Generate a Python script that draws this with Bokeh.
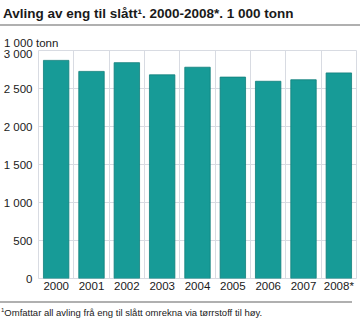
from bokeh.plotting import figure
from bokeh.models import Div, FixedTicker, Range1d
from bokeh.layouts import column
from bokeh.embed import file_html
from bokeh.resources import INLINE

years = ["2000", "2001", "2002", "2003", "2004", "2005", "2006", "2007", "2008*"]
values = [2870, 2725, 2840, 2680, 2780, 2650, 2595, 2615, 2705]
y_ticks = [0, 500, 1000, 1500, 2000, 2500, 3000]
y_tick_labels = ["0", "500", "1 000", "1 500", "2 000", "2 500", "3 000"]

title_text = "Avling av eng til slått¹. 2000-2008*. 1 000 tonn"
unit_text = "1 000 tonn"
footnote_text = "Omfattar all avling frå eng til slått omrekna via tørrstoff til høy."

FONT = "'Liberation Sans', Arial, sans-serif"
BAR = "#179b97"
GRID = "#d8dbe2"
RULE = "#b0b0b0"

title = Div(text=(f"<div style=\"font-family:{FONT};font-size:13.5px;font-weight:bold;"
                  f"color:#1a1a1a;padding-top:4px;padding-left:3px;padding-right:66px;height:26px;"
                  f"border-bottom:2px solid {RULE};\">{title_text}</div>"),
            width=363, height=34, margin=(0, 0, 0, 0))
unit = Div(text=(f"<div style=\"font-family:{FONT};font-size:11.5px;color:#1a1a1a;"
                 f"padding-top:1px;padding-left:4px;\">{unit_text}</div>"),
           width=363, height=13, margin=(0, 0, 0, 0))

p = figure(width=363, height=254, output_backend="svg", toolbar_location=None,
           x_range=Range1d(0, len(years)), y_range=Range1d(0, 3000),
           min_border_left=37, min_border_right=7, min_border_top=3, min_border_bottom=23,
           margin=(0, 0, 0, 0))
p.background_fill_color = "white"
p.border_fill_color = "white"
p.outline_line_color = GRID

xs = [i + 0.5 for i in range(len(years))]
p.vbar(x=xs, top=values, width=0.72, bottom=0, fill_color=BAR,
       line_color="#127f7b", line_width=0.8)

p.xgrid.ticker = FixedTicker(ticks=list(range(1, len(years))))
p.xgrid.grid_line_color = GRID
p.ygrid.ticker = FixedTicker(ticks=y_ticks)
p.ygrid.grid_line_color = GRID

p.xaxis.ticker = FixedTicker(ticks=xs)
p.xaxis.major_label_overrides = {x: y for x, y in zip(xs, years)}
p.yaxis.ticker = FixedTicker(ticks=y_ticks)
p.yaxis.major_label_overrides = {t: l for t, l in zip(y_ticks, y_tick_labels)}
for ax in (p.xaxis, p.yaxis):
    ax.axis_line_color = None
    ax.major_tick_line_color = None
    ax.minor_tick_line_color = None
    ax.major_tick_out = 0
    ax.major_tick_in = 0
    ax.minor_tick_out = 0
    ax.minor_tick_in = 0
    ax.major_label_text_font = FONT
    ax.major_label_text_font_size = "11.5px"
    ax.major_label_text_color = "#1a1a1a"
p.xaxis.major_label_standoff = 1
p.yaxis.major_label_standoff = 6

foot = Div(text=(f"<div style=\"font-family:{FONT};font-size:9.5px;color:#1a1a1a;"
                 f"padding-top:3px;padding-left:1px;padding-right:90px;"
                 f"border-top:2px solid {RULE};\">"
                 f"<sup style=\"font-size:6px\">1</sup>{footnote_text}</div>"),
           width=363, height=23, margin=(0, 0, 0, 0))

layout = column(title, unit, p, foot, spacing=0, margin=(0, 0, 0, 0))
open("out.html", "w").write(file_html(layout, INLINE))
